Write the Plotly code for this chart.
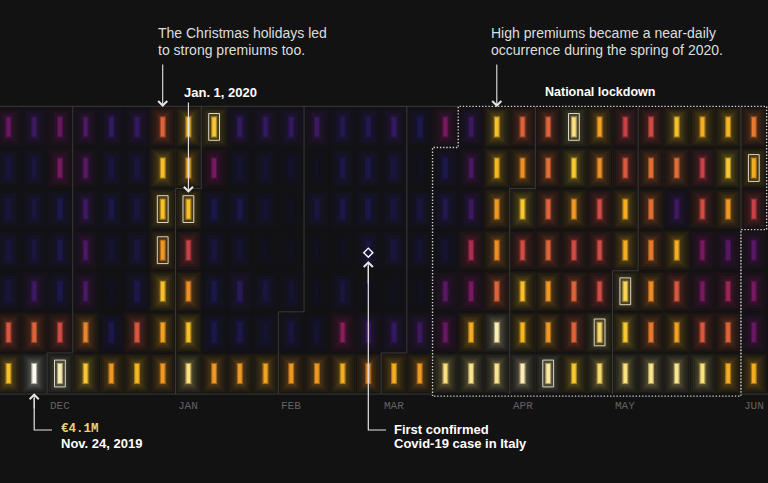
import datetime as dt
import plotly.graph_objects as go
from plotly.colors import sample_colorscale, unlabel_rgb

# ---------------- data ----------------
START = dt.date(2019, 11, 11)          # Monday of first column
N_WEEKS = 30
VMAX = 4.1                             # € millions

# daily premium (€M), one list per weekday, one value per week column
mon = [1.2,0.9,1.2,1.0,0.8,0.8,2.1,3.0,3.1,0.8,0.8,0.8,0.9,0.6,0.6,0.8,0.5,1.3,0.9,3.0,2.1,2.1,3.5,2.7,1.8,1.9,3.0,2.8,2.9,2.3]
tue = [0.4,0.4,1.3,1.1,0.4,0.4,3.0,2.8,1.3,0.3,0.3,0.2,0.1,0.5,0.5,0.4,0.1,0.5,1.0,2.9,2.5,2.2,3.1,2.5,2.0,2.2,2.2,1.8,3.1,2.8]
wed = [0.4,0.4,0.5,0.9,0.5,0.4,3.0,3.0,0.5,0.5,0.3,0.1,0.4,0.5,0.5,0.4,0.4,0.6,0.9,2.6,3.1,2.1,2.6,1.9,2.8,2.2,0.9,1.9,2.6,1.8]
thu = [0.4,0.4,0.5,1.0,0.3,0.4,2.6,1.8,0.4,0.3,0.1,0.1,0.1,0.1,0.4,0.4,0.3,0.3,1.6,2.5,1.9,2.1,1.9,1.9,2.8,2.3,2.8,1.3,1.1,1.1]
fri = [0.4,0.9,0.5,1.0,0.1,0.5,3.0,2.5,0.5,0.7,0.4,0.3,0.1,0.4,0.1,0.1,0.1,1.1,1.3,2.1,3.0,2.6,2.1,1.9,3.3,2.5,2.0,1.3,1.5,1.3]
sat = [2.0,2.1,1.9,2.4,0.5,2.0,2.7,3.0,0.5,0.5,0.3,0.4,0.3,1.4,0.9,0.8,0.9,1.2,2.8,3.8,2.9,2.6,2.1,3.4,3.1,2.3,2.7,2.0,2.1,1.2]
sun = [3.0,4.1,3.8,3.1,2.6,2.9,2.6,3.5,2.6,2.6,2.7,2.6,2.6,2.8,2.5,2.8,2.6,3.5,3.6,3.6,3.8,3.7,3.1,3.4,3.5,3.6,3.6,3.5,2.8,2.8]
weekdays = [mon, tue, wed, thu, fri, sat, sun]

# holidays with highlighted boxes
highlight_dates = ["2019-12-01", "2019-12-25", "2019-12-26", "2020-01-01", "2020-01-06",
                   "2020-04-12", "2020-04-13", "2020-04-25", "2020-05-01", "2020-06-02"]

month_starts = ["2019-12-01", "2020-01-01", "2020-02-01", "2020-03-01",
                "2020-04-01", "2020-05-01", "2020-06-01"]
month_labels = ["DEC", "JAN", "FEB", "MAR", "APR", "MAY", "JUN"]

lockdown = ("2020-03-10", "2020-06-03")
covid_date = "2020-02-20"
max_date = "2019-11-24"
christmas_arrow_date = "2019-12-23"
jan1_date = "2020-01-01"
spring_arrow_date = "2020-03-23"

colorscale = [
    [0.00, "#141428"], [0.05, "#1b1948"], [0.12, "#28227e"], [0.20, "#461f88"],
    [0.27, "#6c1b7a"], [0.33, "#901a68"], [0.41, "#bf344f"], [0.49, "#d9583f"],
    [0.56, "#e87a30"], [0.63, "#f09624"], [0.70, "#f5b420"], [0.76, "#f8c832"],
    [0.85, "#f9e07a"], [0.93, "#fbefb6"], [1.00, "#fffaf0"],
]

BG = "#121212"


def pos(d):
    d = dt.date.fromisoformat(d) if isinstance(d, str) else d
    return (d - START).days // 7, d.weekday()


# layout helpers (pixel -> axis units); axis ranges chosen so columns are 25.7px, rows 41.1px
COLW, ROWH, X0PX, Y0PX = 25.7, 41.1, 8.5, 126.9
def px_x(px): return (px - X0PX) / COLW
def px_y(py): return (py - Y0PX) / ROWH


xs, ys, vals = [], [], []
for r, row in enumerate(weekdays):
    for w, v in enumerate(row):
        xs.append(w); ys.append(r); vals.append(v)

cols = sample_colorscale(colorscale, [min(v / VMAX, 1.0) for v in vals])


def rgba(c, a):
    r, g, b = [float(t) for t in unlabel_rgb(c)]
    return f"rgba({r:.0f},{g:.0f},{b:.0f},{a:.3f})"


fig = go.Figure()

# soft glow: many thin translucent layers
glow_layers = [(40, 27, 0.035), (37, 23, 0.04), (34, 19, 0.045), (31, 15, 0.05),
               (28, 12, 0.06), (25, 9, 0.07), (22, 6, 0.08)]
for length, width, alpha in glow_layers:
    fig.add_trace(go.Scatter(
        x=xs, y=ys, mode="markers", hoverinfo="skip",
        marker=dict(symbol="line-ns", size=length / 1.4,
                    line=dict(width=width, color=[rgba(c, alpha) for c in cols])),
    ))

# month grid lines
lx, ly = [], []
ws_, wd_ = pos(lockdown[0])
we_, wde_ = pos(lockdown[1])
lx += [-1, ws_ + 0.5, None]; ly += [-0.5, -0.5, None]
lx += [-1, ws_ - 0.5, None, we_ - 0.5, N_WEEKS + 1, None]; ly += [6.5, 6.5, None, 6.5, 6.5, None]
for m in month_starts:
    w, d = pos(m)
    if d == 0:
        lx += [w - 0.5, w - 0.5, None]; ly += [6.5, -0.5, None]
    else:
        lx += [w - 0.5, w - 0.5, w + 0.5, w + 0.5, None]
        ly += [6.5, d - 0.5, d - 0.5, -0.5, None]
fig.add_trace(go.Scatter(x=lx, y=ly, mode="lines", hoverinfo="skip",
                         line=dict(color="#3a3a3a", width=1)))

# blurred mid layer + crisp bars (crispness grows with value)
mid_alpha = [max(0.15, min(0.5, 0.1 + 0.2 * v)) for v in vals]
fig.add_trace(go.Scatter(
    x=xs, y=ys, mode="markers", hoverinfo="skip",
    marker=dict(symbol="line-ns", size=21 / 1.4,
                line=dict(width=6, color=[rgba(c, a) for c, a in zip(cols, mid_alpha)])),
))
bar_alpha = [max(0.05, min(1.0, (v - 0.3) / 1.4)) for v in vals]
fig.add_trace(go.Scatter(
    x=xs, y=ys, mode="markers", hoverinfo="skip",
    marker=dict(symbol="line-ns", size=19 / 1.4,
                line=dict(width=3.6, color=[rgba(c, a) for c, a in zip(cols, bar_alpha)])),
))

# highlight boxes
bw, bh = 5.4 / COLW, 13.4 / ROWH
hx, hy = [], []
for d in highlight_dates:
    w, r = pos(d)
    hx += [w - bw, w + bw, w + bw, w - bw, w - bw, None]
    hy += [r - bh, r - bh, r + bh, r + bh, r - bh, None]
fig.add_trace(go.Scatter(x=hx, y=hy, mode="lines", hoverinfo="skip",
                         line=dict(color="#d8d6c8", width=1)))

# lockdown outline
ox = [ws_ - 0.5, ws_ - 0.5, ws_ + 0.5, ws_ + 0.5, we_ + 0.5, we_ + 0.5, we_ - 0.5, we_ - 0.5, ws_ - 0.5]
oy = [6.5, wd_ - 0.5, wd_ - 0.5, -0.5, -0.5, wde_ + 0.5, wde_ + 0.5, 6.5, 6.5]
oy = [y + (0.05 if y == 6.5 else 0) for y in oy]
fig.add_trace(go.Scatter(x=ox, y=oy, mode="lines", hoverinfo="skip",
                         line=dict(color="#d0d0d0", width=1.4, dash="1.4px,1.8px")))

# covid marker
cw, cr = pos(covid_date)
fig.add_trace(go.Scatter(x=[cw], y=[cr + 0.06], mode="markers", hoverinfo="skip",
                         marker=dict(symbol="diamond-open", size=7, color="#ffffff",
                                     line=dict(color="#ffffff", width=1.4))))

# elbow connectors
mw, mr = pos(max_date)
ey = px_y(430)
fig.add_trace(go.Scatter(x=[mw, mw, px_x(52)], y=[px_y(398), ey, ey], mode="lines",
                         hoverinfo="skip", line=dict(color="#e6e6e6", width=1.2)))
fig.add_trace(go.Scatter(x=[cw, cw, px_x(386)], y=[px_y(266), ey, ey], mode="lines",
                         hoverinfo="skip", line=dict(color="#e6e6e6", width=1.2)))

ann = []
SANS = "Liberation Sans, Arial, sans-serif"
MONO = "Liberation Mono, DejaVu Sans Mono, monospace"


def arrow(x, y_tip, y_tail):
    ann.append(dict(x=x, y=y_tip, ax=x, ay=y_tail, xref="x", yref="y", axref="x", ayref="y",
                    text="", showarrow=True, arrowhead=4, arrowsize=1.6, arrowwidth=1.1,
                    arrowcolor="#e6e6e6", standoff=0))


def text(x, y, t, size=14, color="#dedede", bold=False, family=SANS, xanchor="left"):
    if bold:
        t = "<b>" + t + "</b>"
    ann.append(dict(x=x, y=y, xref="x", yref="y", text=t, showarrow=False,
                    xanchor=xanchor, yanchor="middle",
                    font=dict(size=size, color=color, family=family)))


w, _ = pos(christmas_arrow_date)
arrow(w, px_y(107), px_y(63))
text(px_x(156), px_y(33), "The Christmas holidays led")
text(px_x(156), px_y(50), "to strong premiums too.")

w, r = pos(jan1_date)
arrow(w, r - 0.4, px_y(101))
text(px_x(182), px_y(92), "Jan. 1, 2020", size=13, color="#ffffff", bold=True)

w, _ = pos(spring_arrow_date)
arrow(w, px_y(107), px_y(63))
text(px_x(489), px_y(33), "High premiums became a near-daily")
text(px_x(489), px_y(50), "occurrence during the spring of 2020.")
text(px_x(600), px_y(92), "National lockdown", size=12.5, color="#ffffff", bold=True, xanchor="center")

arrow(mw, 6.5 - 0.02, px_y(410))
text(px_x(59), px_y(429), "€4.1M", size=12.5, color="#e8d27c", family=MONO, bold=True)
text(px_x(59), px_y(443), "Nov. 24, 2019", size=13, color="#ffffff", bold=True)

arrow(cw, px_y(261), px_y(285))
text(px_x(392), px_y(429), "First confirmed", size=13, color="#ffffff", bold=True)
text(px_x(392), px_y(443), "Covid-19 case in Italy", size=13, color="#ffffff", bold=True)

for m, lab in zip(month_starts, month_labels):
    w, _ = pos(m)
    text(w, px_y(406), lab, size=11, color="#626262", family=MONO, xanchor="center")

fig.update_layout(
    width=768, height=483, margin=dict(l=0, r=0, t=0, b=0),
    paper_bgcolor=BG, plot_bgcolor=BG, showlegend=False,
    xaxis=dict(range=[px_x(0), px_x(768)], visible=False, fixedrange=True),
    yaxis=dict(range=[px_y(483), px_y(0)], visible=False, fixedrange=True),
    annotations=ann,
)

fig.write_html("out.html")
